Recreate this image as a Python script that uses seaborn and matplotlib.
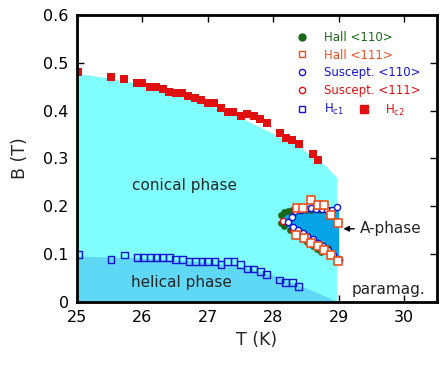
import numpy as np
import pandas as pd
import matplotlib
matplotlib.use("Agg")
import matplotlib.pyplot as plt
import seaborn as sns
from matplotlib.lines import Line2D

# phase boundaries
con_T = [25.0, 25.5, 26.0, 26.5, 27.0, 27.5, 28.0, 28.4, 28.6, 28.8, 28.97]
con_B = [0.478, 0.468, 0.455, 0.437, 0.413, 0.385, 0.352, 0.325, 0.303, 0.285, 0.26]
hel_T = [25.0, 25.5, 26.0, 26.5, 27.0, 27.5, 28.0, 28.5, 28.97]
hel_B = [0.096, 0.094, 0.092, 0.088, 0.083, 0.074, 0.056, 0.029, 0.002]
ap_T = [28.1, 28.2, 28.4, 28.6, 28.8, 29.0]
ap_lo = [0.168, 0.158, 0.146, 0.128, 0.108, 0.09]
ap_hi = [0.172, 0.19, 0.195, 0.196, 0.196, 0.196]

# Hc2 (red filled squares)
hc2_T = [25.02, 25.52, 25.72, 25.92, 26.0, 26.12, 26.2, 26.31, 26.41, 26.51, 26.6, 26.7, 26.8, 26.9, 27.0,
         27.09, 27.2, 27.3, 27.39, 27.5, 27.6, 27.7, 27.8, 27.9, 28.1, 28.19, 28.29, 28.39, 28.6, 28.69]
hc2_B = [0.481, 0.470, 0.466, 0.458, 0.458, 0.449, 0.449, 0.445, 0.440, 0.437, 0.437, 0.431, 0.426, 0.422, 0.415,
         0.415, 0.406, 0.398, 0.398, 0.389, 0.394, 0.388, 0.382, 0.374, 0.354, 0.343, 0.339, 0.330, 0.310, 0.296]

# Hc1 (blue open squares)
hc1_T = [25.02, 25.52, 25.72, 25.92, 26.02, 26.12, 26.22, 26.31, 26.41, 26.51, 26.61, 26.71, 26.81, 26.91, 27.0,
         27.11, 27.2, 27.3, 27.4, 27.5, 27.6, 27.7, 27.8, 27.9, 28.09, 28.19, 28.29, 28.38]
hc1_B = [0.099, 0.089, 0.098, 0.093, 0.093, 0.093, 0.093, 0.093, 0.093, 0.089, 0.089, 0.085, 0.085, 0.085, 0.085,
         0.085, 0.078, 0.085, 0.085, 0.078, 0.069, 0.069, 0.064, 0.058, 0.046, 0.041, 0.041, 0.033]

# A-phase boundaries
hall110_T = [28.12, 28.17, 28.22, 28.28, 28.35, 28.42, 28.5, 28.58, 28.65, 28.72, 28.8, 28.86,
             28.12, 28.17, 28.25, 28.35, 28.45, 28.52, 28.6, 28.67, 28.73, 28.83]
hall110_B = [0.182, 0.188, 0.191, 0.192, 0.193, 0.193, 0.192, 0.193, 0.194, 0.193, 0.195, 0.192,
             0.165, 0.158, 0.150, 0.140, 0.131, 0.125, 0.117, 0.110, 0.104, 0.113]
hall111_T = [28.36, 28.46, 28.57, 28.68, 28.77, 28.88, 28.99, 28.35, 28.47, 28.58, 28.68, 28.77, 28.88, 28.99]
hall111_B = [0.196, 0.196, 0.213, 0.203, 0.203, 0.182, 0.165, 0.140, 0.133, 0.123, 0.117, 0.109, 0.098, 0.086]
sus110_T = [28.23, 28.28, 28.33, 28.42, 28.5, 28.58, 28.66, 28.74, 28.82, 28.9, 28.98,
            28.3, 28.38, 28.45, 28.52, 28.6, 28.68, 28.76, 28.84, 28.92, 29.0]
sus110_B = [0.168, 0.177, 0.19, 0.193, 0.195, 0.196, 0.195, 0.194, 0.193, 0.192, 0.198,
            0.156, 0.151, 0.145, 0.138, 0.131, 0.124, 0.116, 0.108, 0.099, 0.088]
sus111_T = [28.15, 28.3, 28.85, 29.0]
sus111_B = [0.17, 0.15, 0.105, 0.09]

sns.set_style("ticks")
plt.rcParams['font.family'] = ['DejaVu Sans']
plt.rcParams['mathtext.default'] = 'regular'

fig = plt.figure(figsize=(4.43, 3.66), dpi=100)
ax = fig.add_axes([0.174, 0.175, 0.812, 0.784])

c_con = "#80ffff"
c_hel = "#5fd8f6"
c_ap = "#08a2e6"
ax.fill_between(con_T, 0, con_B, color=c_con, lw=0, zorder=1)
ax.fill_between(hel_T, 0, hel_B, color=c_hel, lw=0, zorder=2)
ax.fill_between(ap_T, ap_lo, ap_hi, color=c_ap, lw=0, zorder=2)

red = "#e01010"
blue = "#1414d2"
green = "#1a661a"
orange = "#e8501e"

sns.scatterplot(x=hc2_T, y=hc2_B, ax=ax, marker="s", s=30, color=red, edgecolor=red, linewidth=0, zorder=3)
sns.scatterplot(x=hc1_T, y=hc1_B, ax=ax, marker="s", s=24, facecolor="none", edgecolor=blue, linewidth=1, zorder=3)
sns.scatterplot(x=hall110_T, y=hall110_B, ax=ax, marker="o", s=24, color=green, edgecolor=green, linewidth=0, zorder=4)
sns.scatterplot(x=sus111_T, y=sus111_B, ax=ax, marker="o", s=20, facecolor="white", edgecolor=red, linewidth=1, zorder=5)
sns.scatterplot(x=sus110_T, y=sus110_B, ax=ax, marker="o", s=20, facecolor="white", edgecolor=blue, linewidth=1, zorder=5)
sns.scatterplot(x=hall111_T, y=hall111_B, ax=ax, marker="s", s=30, facecolor="white", edgecolor=orange, linewidth=1.2, zorder=6)

ax.set_xlim(25, 30.5)
ax.set_ylim(0, 0.6)
ax.set_xticks([25, 26, 27, 28, 29, 30])
ax.set_yticks([0, 0.1, 0.2, 0.3, 0.4, 0.5, 0.6])
ax.set_yticklabels(["0", "0.1", "0.2", "0.3", "0.4", "0.5", "0.6"])
ax.tick_params(direction="in", length=5, width=1, top=True, right=True, labelsize=11.5, pad=6, colors="black")
for s in ax.spines.values():
    s.set_linewidth(2)
    s.set_color("black")
    s.set_zorder(10)
ax.set_xlabel("T (K)", fontsize=12.5, labelpad=4)
ax.set_ylabel("B (T)", fontsize=12.5, labelpad=10)

ax.text(26.65, 0.243, "conical phase", fontsize=11, ha="center", va="center", zorder=7)
ax.text(26.6, 0.04, "helical phase", fontsize=11, ha="center", va="center", zorder=7)
ax.text(29.2, 0.025, "paramag.", fontsize=11, ha="left", va="center", zorder=7)
ax.annotate("A-phase", xy=(29.03, 0.153), xytext=(29.33, 0.153), fontsize=11, va="center",
            arrowprops=dict(arrowstyle="-|>", color="black", lw=1, mutation_scale=8), zorder=7)

handles = [
    Line2D([], [], ls="", marker="o", ms=5, mfc=green, mec=green),
    Line2D([], [], ls="", marker="s", ms=5, mfc="white", mec=orange, mew=1),
    Line2D([], [], ls="", marker="o", ms=4.5, mfc="white", mec=blue, mew=1),
    Line2D([], [], ls="", marker="o", ms=4.5, mfc="white", mec=red, mew=1),
    Line2D([], [], ls="", marker="s", ms=5, mfc="white", mec=blue, mew=1),
]
labels = ["Hall <110>", "Hall <111>", "Suscept. <110>", "Suscept. <111>", "H$_{c1}$"]
leg = ax.legend(handles, labels, loc="upper left", bbox_to_anchor=(0.61, 0.945), frameon=False,
                fontsize=8.5, labelcolor=[green, orange, blue, red, blue], handlelength=1,
                handletextpad=1.3, labelspacing=0.4, borderpad=0, borderaxespad=0)
ax.add_artist(leg)
leg2 = ax.legend([Line2D([], [], ls="", marker="s", ms=5.5, mfc=red, mec=red)], ["H$_{c2}$"],
                 loc="upper left", bbox_to_anchor=(0.78, 0.945 - 0.25), frameon=False,
                 fontsize=8.5, labelcolor=[red], handlelength=1, handletextpad=1.3, borderpad=0, borderaxespad=0)

fig.savefig("out.png", dpi=100)
